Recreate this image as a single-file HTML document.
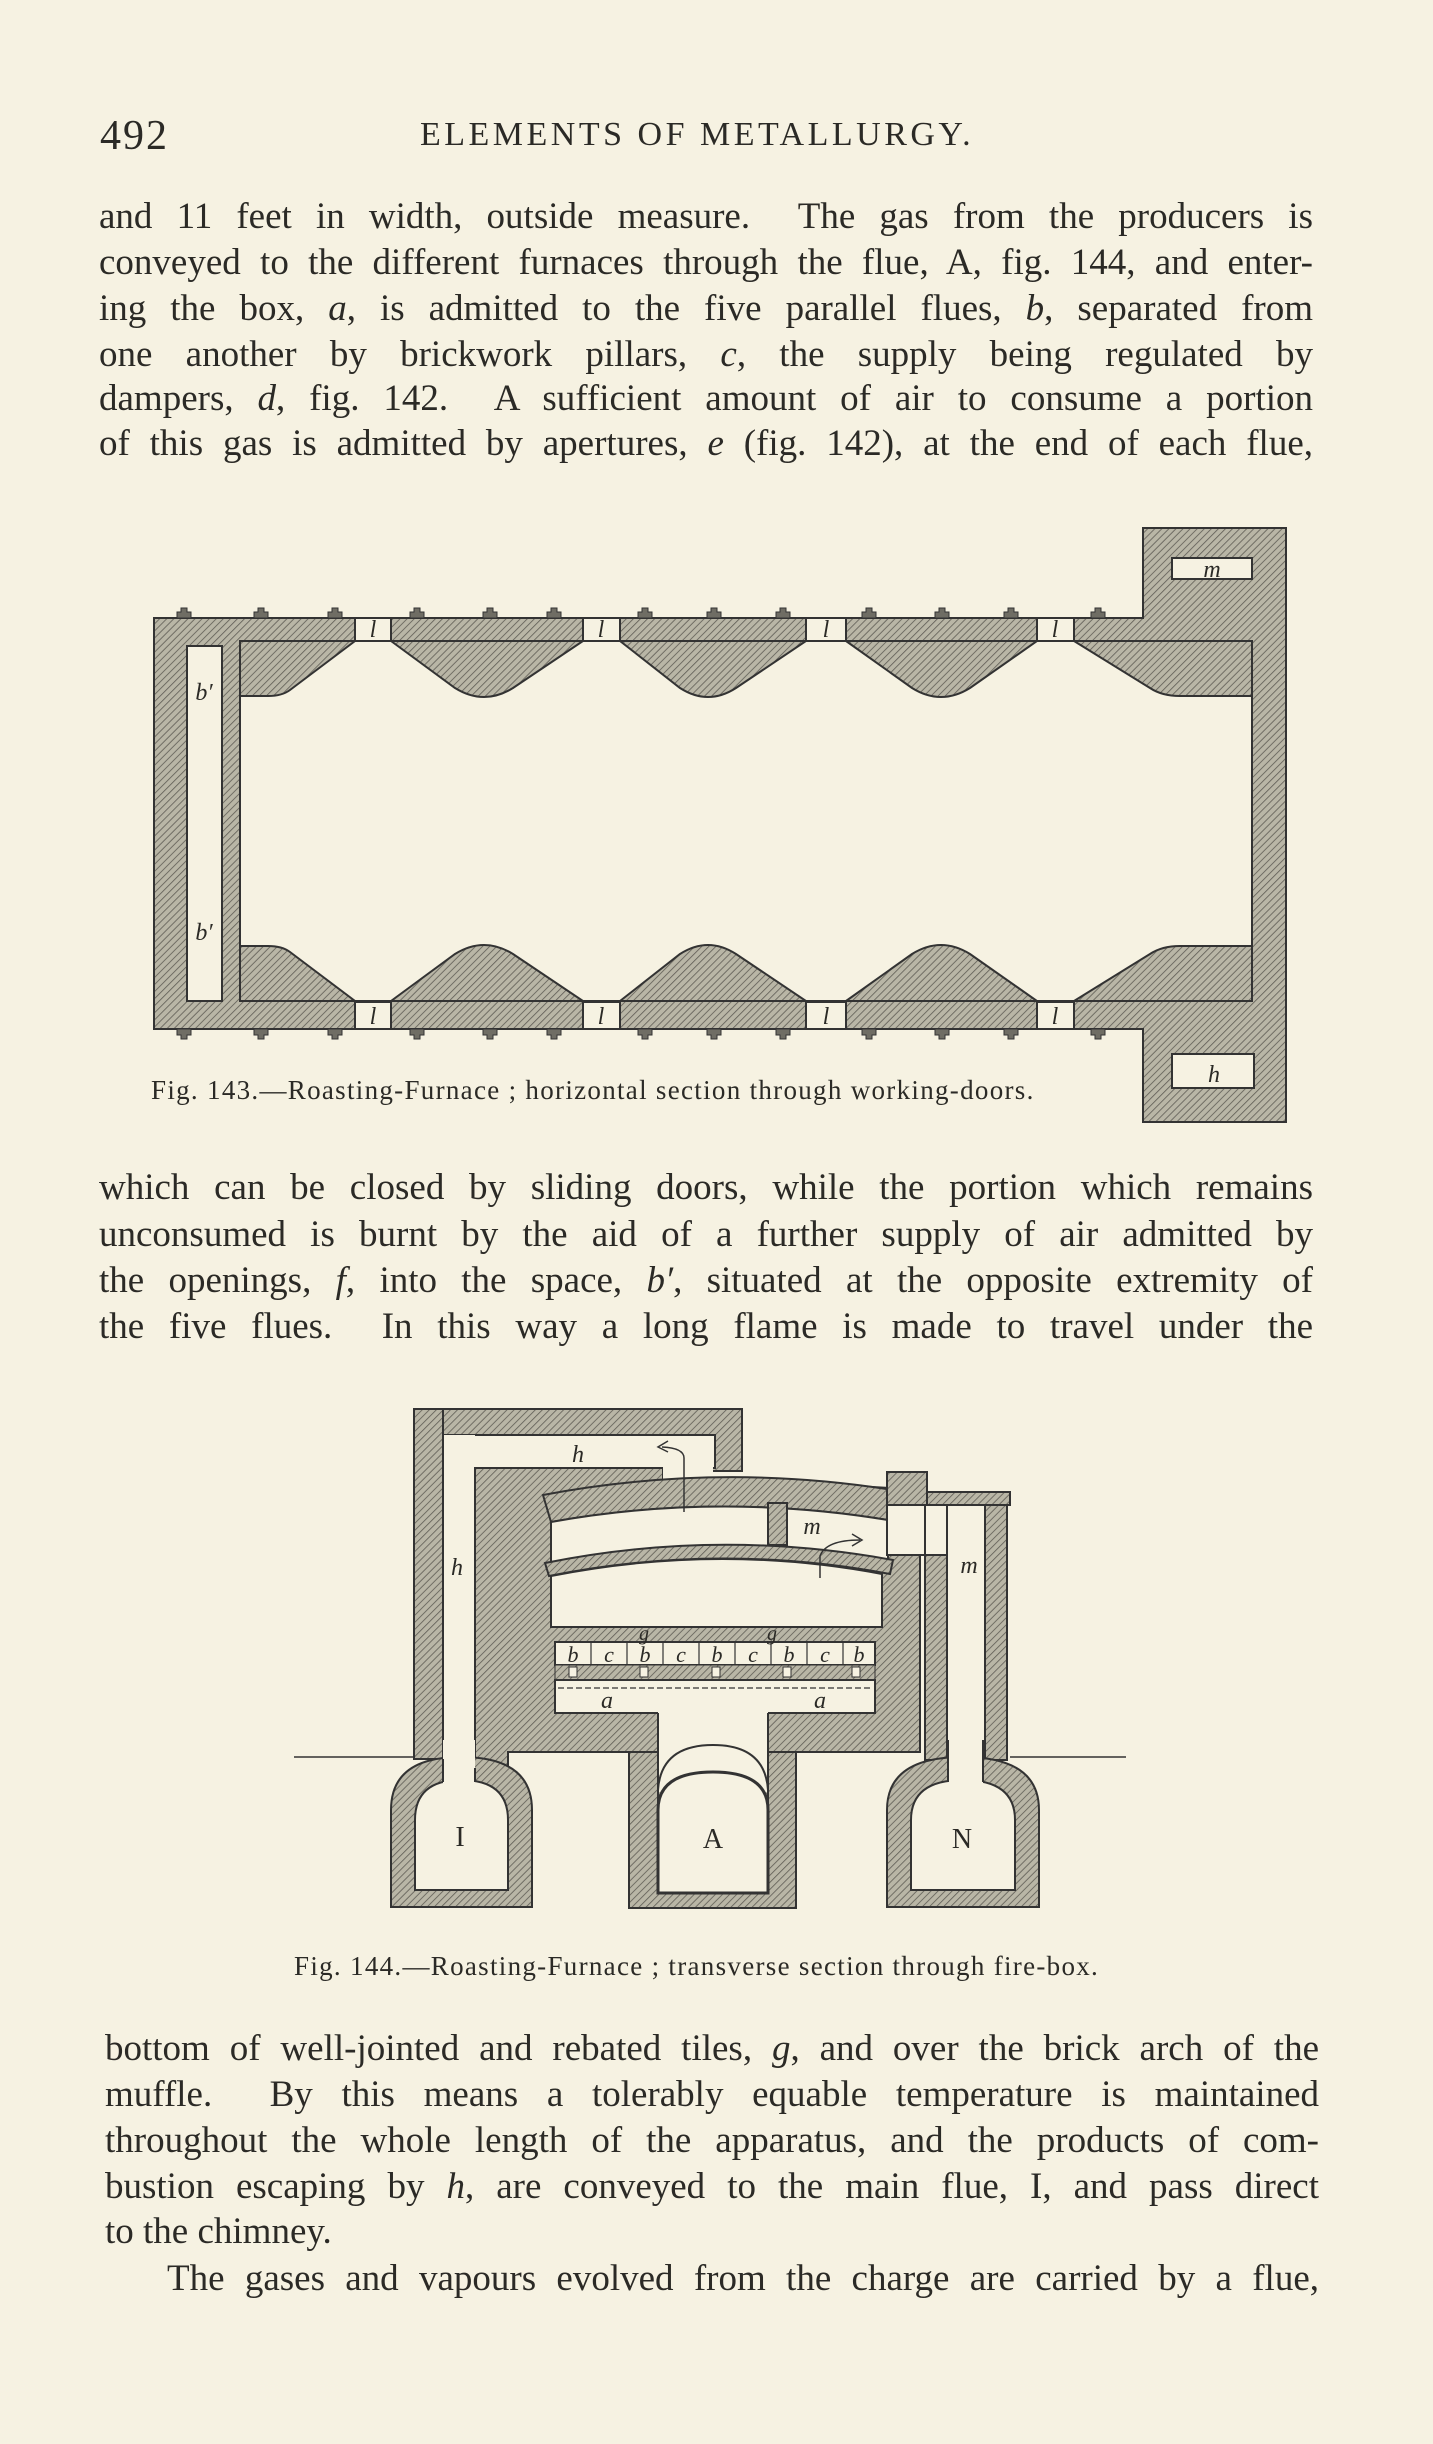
<!DOCTYPE html>
<html><head><meta charset="utf-8"><style>
body{margin:0;background:#f6f2e2;}
#pg{position:relative;width:1433px;height:2444px;overflow:hidden;background:#f6f2e2;color:#2b2a26;font-family:"Liberation Serif",serif;}
.l{position:absolute;left:99px;width:1214px;font-size:37px;line-height:46px;white-space:nowrap;text-align:justify;text-align-last:justify;}
.n{text-align-last:left;}
.cap{position:absolute;font-size:27px;letter-spacing:1.3px;white-space:nowrap;font-family:"Liberation Serif",serif;}
svg{position:absolute;left:0;top:0;}
</style></head><body><div id="pg">
<div style="position:absolute;left:100px;top:112px;font-size:42px;letter-spacing:2px;">492</div>
<div style="position:absolute;left:420px;top:116px;font-size:34px;letter-spacing:3.5px;">ELEMENTS OF METALLURGY.</div>
<div class="l" style="top:194px">and 11 feet in width, outside measure.&nbsp; The gas from the producers is</div>
<div class="l" style="top:240px">conveyed to the different furnaces through the flue, A, fig. 144, and enter-</div>
<div class="l" style="top:286px">ing the box, <i>a</i>, is admitted to the five parallel flues, <i>b</i>, separated from</div>
<div class="l" style="top:332px">one another by brickwork pillars, <i>c</i>, the supply being regulated by</div>
<div class="l" style="top:376px">dampers, <i>d</i>, fig. 142.&nbsp; A sufficient amount of air to consume a portion</div>
<div class="l" style="top:421px">of this gas is admitted by apertures, <i>e</i> (fig. 142), at the end of each flue,</div>
<div class="cap" style="left:151px;top:1075px;">Fig. 143.—Roasting-Furnace ; horizontal section through working-doors.</div>
<div class="l" style="top:1165px">which can be closed by sliding doors, while the portion which remains</div>
<div class="l" style="top:1212px">unconsumed is burnt by the aid of a further supply of air admitted by</div>
<div class="l" style="top:1258px">the openings, <i>f</i>, into the space, <i>b′</i>, situated at the opposite extremity of</div>
<div class="l" style="top:1304px">the five flues.&nbsp; In this way a long flame is made to travel under the</div>
<div class="cap" style="left:294px;top:1951px;">Fig. 144.—Roasting-Furnace ; transverse section through fire-box.</div>
<div class="l" style="left:105px;top:2026px">bottom of well-jointed and rebated tiles, <i>g</i>, and over the brick arch of the</div>
<div class="l" style="left:105px;top:2072px">muffle.&nbsp; By this means a tolerably equable temperature is maintained</div>
<div class="l" style="left:105px;top:2118px">throughout the whole length of the apparatus, and the products of com-</div>
<div class="l" style="left:105px;top:2164px">bustion escaping by <i>h</i>, are conveyed to the main flue, I, and pass direct</div>
<div class="l n" style="left:105px;top:2209px">to the chimney.</div>
<div class="l" style="left:167px;width:1152px;top:2256px">The gases and vapours evolved from the charge are carried by a flue,</div>

<svg width="1433" height="2444" viewBox="0 0 1433 2444">
<defs><pattern id="h" width="5" height="5" patternUnits="userSpaceOnUse" patternTransform="rotate(45)">
<rect width="5" height="5" fill="#b9b6a6"/><line x1="0" y1="0" x2="0" y2="5" stroke="#5e5c54" stroke-width="1.6"/></pattern></defs>
<g stroke="#333" stroke-width="2" fill="url(#h)">
<!-- FIG 143 -->
<path d="M154,618 H1143 V528 H1286 V1122 H1143 V1029 H154 Z"/>
<rect x="240" y="641" width="1012" height="360" fill="#f6f2e2"/>
<rect x="187" y="646" width="35" height="355" fill="#f6f2e2"/>
<path d="M240,641 H355 L290,690 Q282,696 268,696 H240 Z"/>
<path d="M391,641 L455,688 Q484,706 513,688 L583,641 Z"/>
<path d="M620,641 L680,688 Q708,706 736,688 L806,641 Z"/>
<path d="M846,641 L912,688 Q941,706 970,688 L1037,641 Z"/>
<path d="M1074,641 H1252 V696 H1180 Q1162,696 1150,688 Z"/>
<path d="M240,1001 H355 L290,952 Q282,946 268,946 H240 Z"/>
<path d="M391,1001 L455,954 Q484,936 513,954 L583,1001 Z"/>
<path d="M620,1001 L680,954 Q708,936 736,954 L806,1001 Z"/>
<path d="M846,1001 L912,954 Q941,936 970,954 L1037,1001 Z"/>
<path d="M1074,1001 H1252 V946 H1180 Q1162,946 1150,954 Z"/>
<g fill="#f6f2e2">
<rect x="355" y="618" width="36" height="23"/><rect x="583" y="618" width="37" height="23"/><rect x="806" y="618" width="40" height="23"/><rect x="1037" y="618" width="37" height="23"/>
<rect x="355" y="1002" width="36" height="27"/><rect x="583" y="1002" width="37" height="27"/><rect x="806" y="1002" width="40" height="27"/><rect x="1037" y="1002" width="37" height="27"/>
<rect x="1172" y="558" width="80" height="21"/><rect x="1172" y="1054" width="82" height="34"/>
</g>
<g fill="#6f6d64" stroke-width="1">
<path d="M177,618v-6h4v-4h6v4h4v6z M254,618v-6h4v-4h6v4h4v6z M328,618v-6h4v-4h6v4h4v6z M410,618v-6h4v-4h6v4h4v6z M483,618v-6h4v-4h6v4h4v6z M547,618v-6h4v-4h6v4h4v6z M638,618v-6h4v-4h6v4h4v6z M707,618v-6h4v-4h6v4h4v6z M776,618v-6h4v-4h6v4h4v6z M862,618v-6h4v-4h6v4h4v6z M935,618v-6h4v-4h6v4h4v6z M1004,618v-6h4v-4h6v4h4v6z M1091,618v-6h4v-4h6v4h4v6z"/>
<path d="M177,1029v6h4v4h6v-4h4v-6z M254,1029v6h4v4h6v-4h4v-6z M328,1029v6h4v4h6v-4h4v-6z M410,1029v6h4v4h6v-4h4v-6z M483,1029v6h4v4h6v-4h4v-6z M547,1029v6h4v4h6v-4h4v-6z M638,1029v6h4v4h6v-4h4v-6z M707,1029v6h4v4h6v-4h4v-6z M776,1029v6h4v4h6v-4h4v-6z M862,1029v6h4v4h6v-4h4v-6z M935,1029v6h4v4h6v-4h4v-6z M1004,1029v6h4v4h6v-4h4v-6z M1091,1029v6h4v4h6v-4h4v-6z"/>
</g>

<!-- FIG 144 -->
<rect x="414" y="1409" width="328" height="62"/>
<rect x="414" y="1409" width="29" height="350"/>
<rect x="443" y="1435" width="272" height="33" fill="#f6f2e2"/>
<rect x="443" y="1435" width="32" height="330" fill="#f6f2e2" stroke="none"/>
<line x1="443" y1="1435" x2="443" y2="1780"/>
<path d="M475,1468 H663 V1492 L713,1490 V1478 L890,1488 V1555 H920 V1752 H796 V1908 H629 V1752 H508 V1768 H475 Z"/>
<rect x="663" y="1466" width="50" height="28" fill="#f6f2e2" stroke="none"/>
<path d="M543,1495 Q718,1462 893,1490 L888,1520 Q718,1492 551,1522 Z"/>
<path d="M551,1522 Q718,1492 888,1520 L888,1561 Q718,1532 551,1563 Z" fill="#f6f2e2"/>
<rect x="768" y="1503" width="19" height="42"/>
<path d="M545,1563 Q718,1528 893,1560 L890,1574 Q718,1542 549,1576 Z"/>
<path d="M551,1576 Q718,1543 882,1574 V1627 H551 Z" fill="#f6f2e2"/>
<rect x="555" y="1642" width="320" height="23" fill="#f6f2e2"/>
<rect x="555" y="1665" width="320" height="15" fill="url(#h)" stroke-width="1"/>
<rect x="555" y="1680" width="320" height="33" fill="#f6f2e2"/>
<path d="M591,1642v23 M627,1642v23 M663,1642v23 M699,1642v23 M735,1642v23 M771,1642v23 M807,1642v23 M843,1642v23" stroke-width="1.2"/>
<path d="M558,1688 H872" stroke-dasharray="6,3" stroke-width="1.2"/>
<g fill="#f6f2e2" stroke-width="1"><rect x="569" y="1667" width="8" height="10"/><rect x="640" y="1667" width="8" height="10"/><rect x="712" y="1667" width="8" height="10"/><rect x="783" y="1667" width="8" height="10"/><rect x="852" y="1667" width="8" height="10"/></g>
<rect x="658" y="1712" width="110" height="80" fill="#f6f2e2" stroke="none"/>
<path d="M658,1713 V1790 M768,1713 V1790" />
<rect x="887" y="1472" width="40" height="33"/>
<rect x="927" y="1492" width="83" height="13"/>
<rect x="887" y="1505" width="38" height="50" fill="#f6f2e2"/>
<rect x="925" y="1505" width="25" height="255" fill="#f6f2e2"/>
<rect x="925" y="1555" width="22" height="205"/>
<rect x="985" y="1505" width="22" height="255"/>
<rect x="947" y="1505" width="38" height="255" fill="#f6f2e2"/>
<path d="M391,1907 V1810 Q391,1757 461,1757 Q532,1757 532,1810 V1907 Z"/>
<path d="M415,1890 V1820 Q415,1780 461,1780 Q508,1780 508,1820 V1890 Z" fill="#f6f2e2"/>
<path d="M629,1908 V1752 H658 V1893 H768 V1752 H796 V1908 Z"/>
<path d="M658,1893 V1810 Q658,1772 713,1772 Q768,1772 768,1810 V1893 Z" fill="#f6f2e2" stroke-width="3"/>
<path d="M658,1790 Q661,1745 713,1745 Q765,1745 768,1790" fill="none"/>
<path d="M887,1907 V1810 Q887,1757 963,1757 Q1039,1757 1039,1810 V1907 Z"/>
<path d="M911,1890 V1820 Q911,1780 963,1780 Q1015,1780 1015,1820 V1890 Z" fill="#f6f2e2"/>
<rect x="443" y="1740" width="32" height="45" fill="#f6f2e2" stroke="none"/>
<rect x="948" y="1740" width="35" height="45" fill="#f6f2e2" stroke="none"/>
<path d="M443,1759 V1782 M475,1768 V1782 M948,1740 V1782 M983,1740 V1782"/>
<path d="M294,1757 H413 M1010,1757 H1126" stroke-width="1.5"/>
<path d="M684,1512 V1458 Q684,1448 662,1447" fill="none" stroke-width="1.5"/>
<path d="M668,1441 L658,1447 L668,1452" fill="none" stroke-width="1.5"/>
<path d="M820,1578 V1556 Q826,1540 860,1540" fill="none" stroke-width="1.5"/>
<path d="M852,1534 L862,1540 L852,1546" fill="none" stroke-width="1.5"/>
</g>
<g font-family="Liberation Serif,serif" font-style="italic" fill="#2b2a26" font-size="24" text-anchor="middle">
<text x="373" y="637">l</text><text x="601" y="637">l</text><text x="826" y="637">l</text><text x="1055" y="637">l</text>
<text x="373" y="1024">l</text><text x="601" y="1024">l</text><text x="826" y="1024">l</text><text x="1055" y="1024">l</text>
<text x="1212" y="577">m</text><text x="1214" y="1082">h</text>
<text x="204" y="700">b′</text><text x="204" y="940">b′</text>
<text x="578" y="1462">h</text><text x="457" y="1575">h</text><text x="812" y="1534">m</text><text x="969" y="1573">m</text>
<text x="644" y="1640" font-size="20">g</text><text x="772" y="1640" font-size="20">g</text>
<g font-size="22"><text x="573" y="1662">b</text><text x="609" y="1662">c</text><text x="645" y="1662">b</text><text x="681" y="1662">c</text><text x="717" y="1662">b</text><text x="753" y="1662">c</text><text x="789" y="1662">b</text><text x="825" y="1662">c</text><text x="859" y="1662">b</text></g>
<text x="607" y="1708">a</text><text x="820" y="1708">a</text>
</g>
<g font-family="Liberation Serif,serif" fill="#2b2a26" font-size="28" text-anchor="middle">
<text x="460" y="1846">I</text><text x="713" y="1848">A</text><text x="962" y="1848">N</text>
</g>
</svg>
</div></body></html>
